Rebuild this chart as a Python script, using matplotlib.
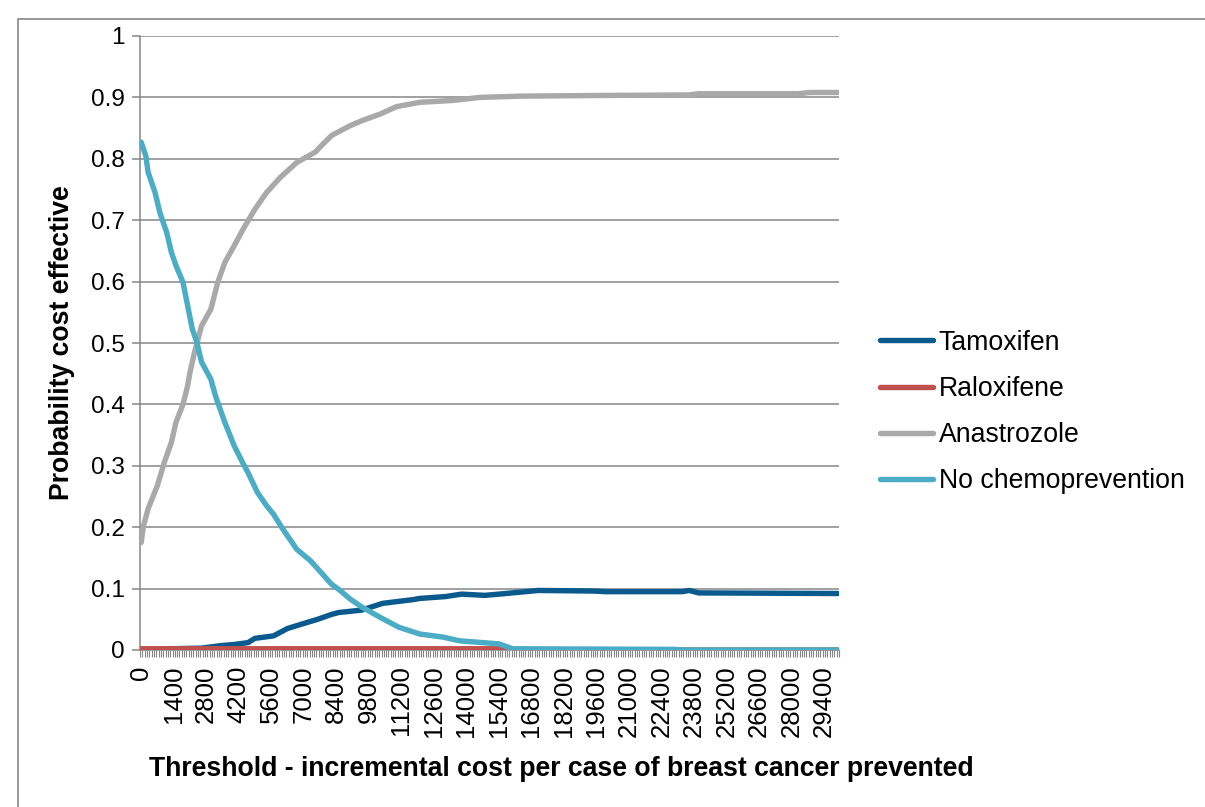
import matplotlib
matplotlib.use("Agg")
import matplotlib.pyplot as plt
from matplotlib.patches import Rectangle
from matplotlib.ticker import FixedLocator, FuncFormatter
import numpy as np

plt.rcParams['font.family'] = ['Liberation Sans', 'DejaVu Sans']

# ---- data ----
tam_x = [0, 1200, 2600, 3400, 4000, 4600, 4900, 5700, 6300, 6900, 7600, 8200, 8500,
         9500, 10400, 11700, 12000, 13100, 13800, 14800, 15700, 17100, 19500, 20000,
         23300, 23600, 24000, 30000]
tam_y = [0.0, 0.002, 0.003, 0.007, 0.009, 0.012, 0.019, 0.023, 0.035, 0.042, 0.050,
         0.058, 0.061, 0.065, 0.076, 0.082, 0.084, 0.087, 0.091, 0.089, 0.092, 0.097,
         0.096, 0.095, 0.095, 0.097, 0.093, 0.092]

ral_x = [0, 15800, 16000, 30000]
ral_y = [0.002, 0.002, 0.0, 0.0]

ana_x = [0, 100, 300, 700, 1000, 1300, 1500, 1800, 2000, 2100, 2300, 2600, 3000, 3300,
         3600, 4000, 4400, 4900, 5400, 6000, 6700, 7500, 7700, 8200, 9000, 9500, 10300,
         11000, 12000, 13400, 14600, 16300, 19300, 23600, 24000, 28300, 28800, 30000]
ana_y = [0.175, 0.202, 0.230, 0.268, 0.306, 0.338, 0.371, 0.400, 0.430, 0.452, 0.485,
         0.528, 0.555, 0.599, 0.631, 0.658, 0.686, 0.718, 0.745, 0.770, 0.794, 0.811,
         0.819, 0.838, 0.854, 0.862, 0.873, 0.885, 0.892, 0.895, 0.900, 0.902, 0.903,
         0.904, 0.906, 0.906, 0.908, 0.908]

noc_x = [0, 200, 300, 600, 800, 1100, 1300, 1500, 1800, 2000, 2200, 2400, 2600, 3000,
         3200, 3300, 3600, 4000, 4400, 4600, 5000, 5400, 5700, 6100, 6700, 7300, 7800,
         8200, 8500, 9000, 9500, 10300, 11100, 12000, 13000, 13700, 15400, 16000,
         23000, 23300, 30000]
noc_y = [0.827, 0.805, 0.778, 0.745, 0.713, 0.680, 0.648, 0.626, 0.599, 0.561, 0.523,
         0.501, 0.469, 0.441, 0.414, 0.403, 0.371, 0.333, 0.303, 0.289, 0.257, 0.235,
         0.221, 0.197, 0.164, 0.145, 0.124, 0.107, 0.099, 0.083, 0.070, 0.053, 0.037,
         0.026, 0.021, 0.015, 0.010, 0.002, 0.001, 0.0, 0.0]

series_names = ["Tamoxifen", "Raloxifene", "Anastrozole", "No chemoprevention"]
series_colors = ["#0B5A8E", "#C0504D", "#A9A9A9", "#4BACC6"]

x_label_values = list(range(0, 29401, 1400))
y_ticks = [0, 0.1, 0.2, 0.3, 0.4, 0.5, 0.6, 0.7, 0.8, 0.9, 1.0]

# ---- figure ----
W, H = 1205, 807
fig = plt.figure(figsize=(W / 100, H / 100), dpi=100)

# outer chart border
fig.patches.append(Rectangle((18 / W, -0.01), 1.2, (H - 19) / H + 0.01,
                             transform=fig.transFigure, fill=False,
                             edgecolor="#868686", linewidth=1.2))

L, R, T, B = 140, 839, 36, 650
ax = fig.add_axes([L / W, (H - B) / H, (R - L) / W, (B - T) / H])

lw = 3.9
for xs, ys, name, col in zip([tam_x, ral_x, ana_x, noc_x], [tam_y, ral_y, ana_y, noc_y],
                              series_names, series_colors):
    ax.plot(xs, ys, color=col, linewidth=lw, label=name, solid_capstyle="round",
            solid_joinstyle="round", zorder=3)

ax.set_xlim(-50, 30050)
ax.set_ylim(0, 1)

ax.set_yticks(y_ticks)
ax.yaxis.set_major_formatter(FuncFormatter(lambda v, p: "%g" % round(v, 1)))
ax.grid(axis="y", color="#868686", linewidth=1.1, zorder=1)
ax.set_axisbelow(True)

ax.xaxis.set_major_locator(FixedLocator(x_label_values))
ax.set_xticklabels([str(v) for v in x_label_values], rotation=90)
ax.xaxis.set_minor_locator(FixedLocator(np.arange(-50, 30051, 100)))
ax.tick_params(axis="x", which="major", length=0, pad=11, labelsize=18.5)
ax.tick_params(axis="x", which="minor", length=5, width=0.8, color="#868686", direction="out")
ax.tick_params(axis="y", which="major", length=6, width=1.1, color="#868686", labelsize=17.5, pad=5)

for s in ["top", "right"]:
    ax.spines[s].set_visible(False)
for s in ["left", "bottom"]:
    ax.spines[s].set_color("#868686")
    ax.spines[s].set_linewidth(1.1)

ax.set_ylabel("Probability cost effective", fontsize=19.2, fontweight="bold")
ax.yaxis.set_label_coords((75 - L) / (R - L), 0.5)
ax.set_xlabel("Threshold - incremental cost per case of breast cancer prevented",
              fontsize=19.2, fontweight="bold")
ax.xaxis.set_label_coords((561 - L) / (R - L), (B - 756) / (B - T))

ax.legend(loc="center left", bbox_to_anchor=(880 / W, (H - 412) / H),
          bbox_transform=fig.transFigure, frameon=False, fontsize=19.2,
          handlelength=2.0, handletextpad=0.2, labelspacing=0.76,
          borderpad=0, borderaxespad=0)

fig.savefig("out.png", dpi=100)
